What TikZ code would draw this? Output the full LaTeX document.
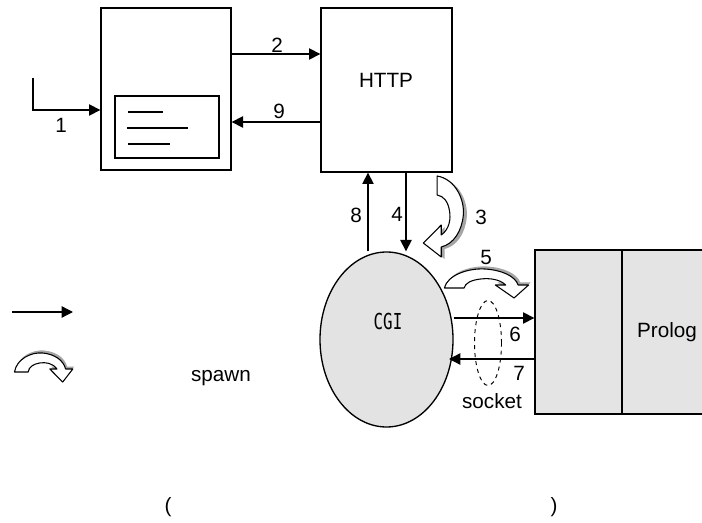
\documentclass[tikz,border=0pt]{standalone}
\usepackage{fontspec}
\usepackage{graphicx}
\setmainfont{Liberation Sans}
\newfontfamily\cgimono{DejaVu Sans Mono}
\usetikzlibrary{arrows.meta,shapes.geometric}
\definecolor{cgigray}{RGB}{227,227,227}
\definecolor{prologgray}{RGB}{228,228,228}
\definecolor{shadowgray}{RGB}{165,165,165}
\tikzset{
  spawnarrow/.pic={
    \begin{scope}[shift={(2,-2.5)}]
      \fill[shadowgray] (-41,5) .. controls (-38,-8) and (-18,-15) .. (-2,-14)
        .. controls (14,-13) and (27,-7) .. (30,2) -- (40,2) -- (26,15) -- (8,2) -- (18,2)
        .. controls (12,-4) and (2,-5) .. (-6,-4) .. controls (-15,-3) and (-21,0) .. (-22,5) -- cycle;
    \end{scope}
    \filldraw[fill=white, line width=0.8pt, line join=round]
      (-41,5) .. controls (-38,-8) and (-18,-15) .. (-2,-14)
        .. controls (14,-13) and (27,-7) .. (30,2) -- (40,2) -- (26,15) -- (8,2) -- (18,2)
        .. controls (12,-4) and (2,-5) .. (-6,-4) .. controls (-15,-3) and (-21,0) .. (-22,5) -- cycle;
  }
}
\begin{document}
\begin{tikzpicture}[x=0.75pt,y=-0.75pt,
  line width=1pt,
  arr/.style={-{Triangle[length=8.5pt,width=8.5pt]}},
  box/.style={draw, rectangle, inner sep=0pt},
  lbl/.style={font=\fontsize{15.5}{18}\selectfont, inner sep=0pt}]
\useasboundingbox (0,0) rectangle (702,523);
\clip (0,0) rectangle (702,523);

% helper coordinates
\coordinate (y54) at (0,54);
\coordinate (y110) at (0,110);
\coordinate (y122) at (0,122);
\coordinate (y318) at (0,318);
\coordinate (y359) at (0,359);
\coordinate (x368) at (368,0);
\coordinate (x406) at (406,0);

% browser
\node[box, minimum width=97.5pt, minimum height=121.5pt] (browser) at (166,89) {};
\node[box, minimum width=78pt, minimum height=46.5pt] (page) at (167,127) {};
\draw (128,112) -- (163,112);
\draw (127,128) -- (188,128);
\draw (128,144) -- (170,144);

% HTTP
\node[box, minimum width=98.25pt, minimum height=123pt] (http) at (386.5,90) {};
\node[lbl] (httptext) at (386,80) {HTTP};

% CGI
\node[draw, ellipse, fill=cgigray, inner sep=0pt, minimum width=99.75pt, minimum height=131.25pt] (cgi) at (386.5,339.5) {};
\node[inner sep=0pt] (cgitext) at (388,321) {\scalebox{0.72}[1]{\cgimono\fontsize{16.5}{18}\selectfont CGI}};

% Prolog
\node[box, fill=prologgray, minimum width=65.25pt, minimum height=123pt] (plleft) at (578.5,332) {};
\node[box, fill=prologgray, minimum width=67.5pt, minimum height=123pt, font=\fontsize{15.5}{18}\selectfont] (plright) at (667,332) {Prolog};

% arrow 1
\coordinate (s1) at (33,78);
\draw[arr] (s1) |- (browser.west |- y110);
\node[lbl] (l1) at (61,125) {1};

% arrow 2 and 9
\draw[arr] (browser.east |- y54) -- (http.west |- y54);
\node[lbl] (l2) at (277,45) {2};
\draw[arr] (http.west |- y122) -- (browser.east |- y122);
\node[lbl] (l9) at (279,111) {9};

% arrows 8 and 4
\draw[arr] (cgi.north -| x368) -- (http.south -| x368);
\node[lbl] (l8) at (356,215) {8};
\draw[arr] (http.south -| x406) -- (cgi.north -| x406);
\node[lbl] (l4) at (397,214) {4};

% spawn 3
\pic[rotate=-90, yscale=1.38] at (444,217) {spawnarrow};
\node[lbl] (l3) at (481,217) {3};

% spawn 5
\pic[xscale=1.04] at (487,283) {spawnarrow};
\node[lbl] (l5) at (486,257) {5};

% socket
\node[draw, dashed, ellipse, line width=0.7pt, inner sep=0pt, minimum width=20.25pt, minimum height=63.75pt] (sock) at (488,343) {};
\coordinate (c7) at (449,359);
\draw[arr] (cgi.east |- y318) -- (plleft.west |- y318);
\node[lbl] (l6) at (515,334) {6};
\draw[arr] (plleft.west |- y359) -- (c7);
\node[lbl] (l7) at (519,373) {7};
\node[lbl] (socket) at (492,401) {socket};

% legend
\coordinate (la) at (12,312);
\coordinate (lb) at (73,312);
\draw[arr] (la) -- (lb);
\pic[xscale=0.72] at (44,367) {spawnarrow};
\node[lbl, anchor=base] (spawn) at (221,382) {spawn};

% parentheses
\node[lbl] (lp) at (168,507) {(};
\node[lbl] (rp) at (554,507) {)};
\end{tikzpicture}
\end{document}
